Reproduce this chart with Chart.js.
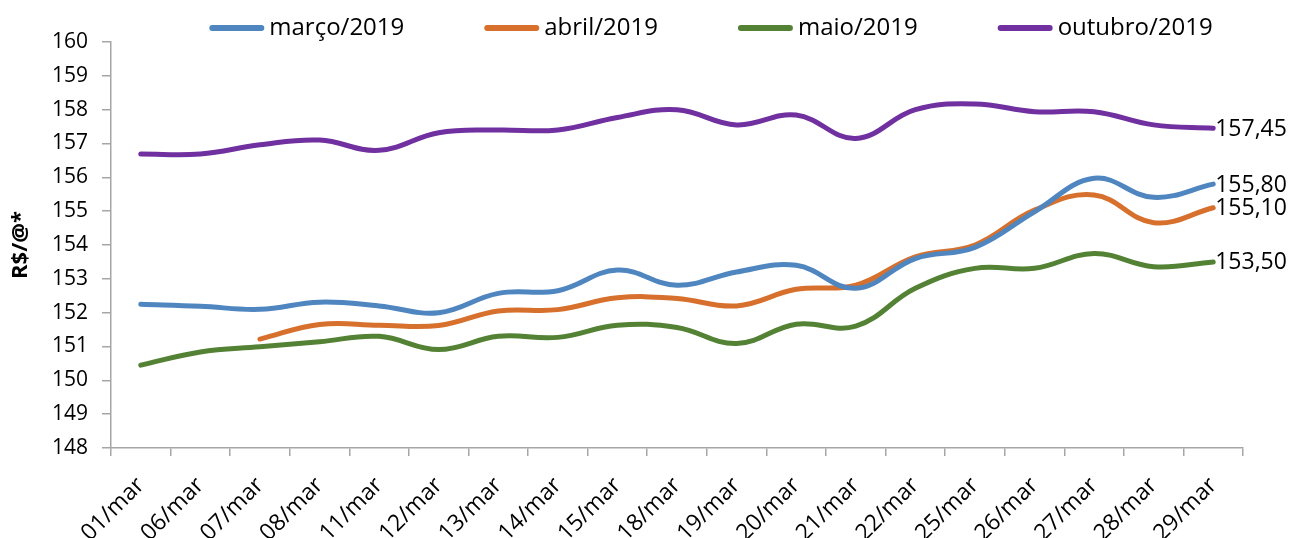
<!DOCTYPE html>
<html>
<head>
<meta charset="utf-8">
<script src="https://cdn.jsdelivr.net/npm/chart.js@4.4.1/dist/chart.umd.min.js"></script>
<style>
  html, body { margin: 0; padding: 0; background: #fff; }
  #wrap { width: 1290px; height: 538px; }
</style>
</head>
<body>
<div id="wrap"><canvas id="priceChart" width="1290" height="538"></canvas></div>
<script>
// categories and series (R$/@)
const days = ['01/mar', '06/mar', '07/mar', '08/mar', '11/mar', '12/mar', '13/mar', '14/mar', '15/mar', '18/mar',
  '19/mar', '20/mar', '21/mar', '22/mar', '25/mar', '26/mar', '27/mar', '28/mar', '29/mar'];
const marco2019 = [152.25, 152.19, 152.10, 152.31, 152.20, 152.00, 152.57, 152.65, 153.26, 152.81,
  153.20, 153.40, 152.72, 153.60, 153.93, 154.98, 155.97, 155.41, 155.80];
const abril2019 = [null, null, 151.22, 151.65, 151.63, 151.62, 152.05, 152.09, 152.44, 152.42,
  152.20, 152.69, 152.81, 153.65, 154.00, 155.03, 155.48, 154.66, 155.10];
const maio2019 = [150.45, 150.84, 150.99, 151.14, 151.30, 150.91, 151.30, 151.27, 151.63, 151.56,
  151.09, 151.66, 151.60, 152.72, 153.31, 153.31, 153.75, 153.36, 153.50];
const outubro2019 = [156.69, 156.69, 156.96, 157.10, 156.80, 157.32, 157.40, 157.40, 157.77, 158.00,
  157.55, 157.84, 157.15, 158.00, 158.17, 157.94, 157.94, 157.55, 157.45];
const seriesNames = ['março/2019', 'abril/2019', 'maio/2019', 'outubro/2019'];
const yMin = 148, yMax = 160, yStep = 1;

const colors = ['#4F86C0', '#D6702C', '#548235', '#7030A0'];
const axisGray = '#A6A6A6';
const FONT = "'Open Sans', sans-serif";

// legend drawn on top, line sample + label
const topLegend = {
  id: 'topLegend',
  afterDraw(chart) {
    const ctx = chart.ctx;
    const ds = chart.data.datasets;
    const sample = 55, gapText = 5, gapItem = 80;
    ctx.save();
    ctx.font = '24px ' + FONT;
    const widths = ds.map(d => sample + gapText + ctx.measureText(d.label).width);
    const total = widths.reduce((a, b) => a + b, 0) + gapItem * (ds.length - 1);
    let x = 711 - total / 2;
    const y = 28;
    ds.forEach((d, i) => {
      ctx.strokeStyle = d.borderColor;
      ctx.lineWidth = 6;
      ctx.lineCap = 'round';
      ctx.beginPath();
      ctx.moveTo(x + 3, y);
      ctx.lineTo(x + sample - 3, y);
      ctx.stroke();
      ctx.fillStyle = '#000';
      ctx.textBaseline = 'middle';
      ctx.textAlign = 'left';
      ctx.fillText(d.label, x + sample + gapText, y);
      x += widths[i] + gapItem;
    });
    ctx.restore();
  }
};

// value label at the end of each line
const endLabels = {
  id: 'endLabels',
  afterDatasetsDraw(chart) {
    const ctx = chart.ctx;
    ctx.save();
    ctx.font = '23px ' + FONT;
    ctx.fillStyle = '#000';
    ctx.textAlign = 'left';
    ctx.textBaseline = 'middle';
    chart.data.datasets.forEach((d, i) => {
      const meta = chart.getDatasetMeta(i);
      const last = d.data.length - 1;
      const pt = meta.data[last];
      const txt = d.data[last].toFixed(2).replace('.', ',');
      ctx.fillText(txt, pt.x + 2, pt.y + 1);
    });
    ctx.restore();
  }
};

const seriesData = [marco2019, abril2019, maio2019, outubro2019];

new Chart(document.getElementById('priceChart'), {
  type: 'line',
  data: {
    labels: days,
    datasets: seriesData.map((vals, i) => ({
      label: seriesNames[i],
      data: vals,
      borderColor: colors[i],
      backgroundColor: colors[i],
      borderWidth: 5,
      borderCapStyle: 'round',
      pointRadius: 0,
      tension: 0.4,
      fill: false
    }))
  },
  options: {
    responsive: false,
    animation: false,
    devicePixelRatio: 1,
    layout: { padding: { top: 42, right: 47, left: 0, bottom: 0 } },
    plugins: { legend: { display: false }, tooltip: { enabled: false } },
    scales: {
      x: {
        offset: true,
        grid: { display: true, offset: true, drawOnChartArea: false, drawTicks: true, tickLength: 8, color: axisGray, lineWidth: 1.5 },
        border: { display: true, color: axisGray, width: 1.5 },
        ticks: { color: '#000', font: { family: FONT, size: 23 }, minRotation: 45, maxRotation: 45, padding: 16, autoSkip: false },
        afterFit(scale) { scale.height = 90; }
      },
      y: {
        min: yMin,
        max: yMax,
        grid: { display: true, drawOnChartArea: false, drawTicks: true, tickLength: 9, color: axisGray, lineWidth: 1.5 },
        border: { display: true, color: axisGray, width: 1.5 },
        ticks: { stepSize: yStep, color: '#000', font: { family: FONT, size: 21 }, padding: 14 },
        title: { display: true, text: 'R$/@*', color: '#000', font: { family: FONT, size: 22, weight: 'bold' }, padding: { top: 8, bottom: 0 } },
        afterFit(scale) { scale.width = 111; }
      }
    }
  },
  plugins: [topLegend, endLabels]
});
</script>
</body>
</html>
